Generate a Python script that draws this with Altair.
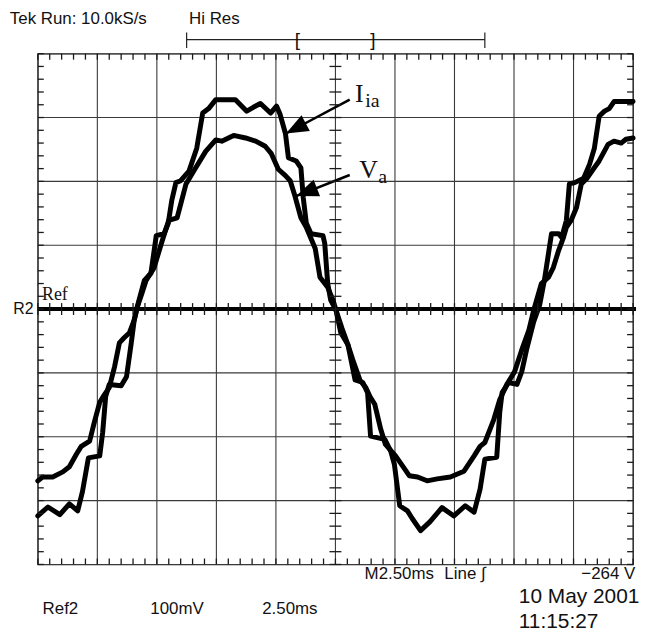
import math
import altair as alt
import pandas as pd

# ---- data (time axis in divisions 0..10, amplitude in divisions -4..4) ----
i_t = [0.00,0.17,0.37,0.53,0.67,0.75,0.85,1.04,1.09,1.14,1.20,1.40,1.49,1.57,1.62,1.70,1.79,1.90,1.99,2.12,
       2.19,2.25,2.32,2.40,2.54,2.67,2.77,2.87,2.99,3.32,3.51,3.62,3.74,3.91,4.01,4.07,4.16,4.21,4.34,4.42,
       4.46,4.51,4.59,4.79,4.82,4.87,4.92,5.01,5.09,5.21,5.33,5.46,5.54,5.59,5.83,5.93,5.99,6.08,6.21,6.29,
       6.43,6.59,6.79,6.99,7.18,7.33,7.43,7.51,7.71,7.76,7.80,7.91,8.05,8.13,8.21,8.33,8.43,8.51,8.63,8.75,
       8.80,8.88,8.93,9.02,9.17,9.27,9.35,9.43,9.52,9.60,9.68,10.0]
i_v = [-3.24,-3.10,-3.22,-3.05,-3.16,-2.86,-2.33,-2.30,-1.93,-1.37,-1.18,-1.20,-1.06,-0.53,-0.17,0.14,0.45,0.56,1.15,1.18,
       1.34,1.70,1.98,2.01,2.16,2.52,3.07,3.14,3.28,3.28,3.10,3.16,3.22,3.07,3.18,3.05,2.75,2.37,2.32,2.21,
       1.74,1.35,1.18,1.15,1.03,0.40,0.14,-0.02,-0.37,-0.56,-1.11,-1.15,-1.31,-1.99,-2.04,-2.23,-2.43,-3.08,-3.16,-3.28,
       -3.47,-3.33,-3.11,-3.24,-3.08,-3.18,-2.82,-2.35,-2.32,-1.62,-1.31,-1.15,-1.18,-0.98,-0.64,-0.20,0.06,0.45,1.18,1.18,
       1.12,1.39,1.96,1.98,2.05,2.27,2.52,3.02,3.10,3.14,3.25,3.25]

v_t = [0.00,0.08,0.25,0.42,0.53,0.65,0.73,0.87,0.95,1.04,1.12,1.20,1.29,1.37,1.45,1.54,1.62,1.67,1.75,1.82,
       1.95,2.09,2.20,2.34,2.49,2.65,2.82,2.99,3.09,3.29,3.49,3.66,3.82,3.92,4.04,4.16,4.24,4.32,4.42,4.51,
       4.66,4.74,4.87,4.96,5.01,5.11,5.21,5.29,5.41,5.51,5.58,5.66,5.76,5.84,6.01,6.13,6.24,6.38,6.54,6.71,
       6.93,7.16,7.33,7.43,7.51,7.66,7.76,7.88,8.01,8.13,8.25,8.33,8.46,8.58,8.66,8.75,8.83,8.88,8.96,9.05,
       9.13,9.22,9.33,9.43,9.58,9.68,9.80,9.88,10.0]
v_v = [-2.69,-2.63,-2.63,-2.55,-2.47,-2.27,-2.15,-2.07,-1.77,-1.46,-1.34,-1.23,-0.90,-0.53,-0.45,-0.37,-0.17,0.03,0.25,0.45,
       0.64,1.07,1.39,1.43,1.96,2.21,2.47,2.65,2.63,2.72,2.68,2.63,2.55,2.44,2.19,2.09,2.01,1.77,1.43,1.28,
       0.95,0.50,0.34,0.14,-0.02,-0.30,-0.56,-0.79,-1.11,-1.23,-1.37,-1.49,-1.88,-2.12,-2.30,-2.46,-2.61,-2.63,-2.69,-2.66,
       -2.63,-2.54,-2.30,-2.15,-2.09,-1.73,-1.42,-1.18,-0.98,-0.64,-0.33,-0.02,0.40,0.50,0.65,0.92,1.12,1.28,1.39,1.59,
       1.96,2.04,2.19,2.32,2.58,2.63,2.60,2.66,2.68]

grid_x = [0,1,2,3,4,5,6,7,8,9,10]
grid_y = [-4,-3,-2,-1,0,1,2,3,4]

assert len(i_t) == len(i_v) and len(v_t) == len(v_v)

W, H = 599, 514
PX_X, PX_Y = W / 10.0, H / 8.0

X = alt.Scale(domain=[0, 10], nice=False, zero=False)
Y = alt.Scale(domain=[-4, 4], nice=False, zero=False)

def xe(f="x"):
    return alt.X(f + ":Q", scale=X, axis=None)

def ye(f="y"):
    return alt.Y(f + ":Q", scale=Y, axis=None)

# grid
gx = alt.Chart(pd.DataFrame({"x": grid_x})).mark_rule(color="#3a3a3a", strokeWidth=1.1).encode(
    x=xe(), y=alt.value(0), y2=alt.value(H))
gy = alt.Chart(pd.DataFrame({"y": grid_y})).mark_rule(color="#3a3a3a", strokeWidth=1.1).encode(
    y=ye(), x=alt.value(0), x2=alt.value(W))

# minor ticks (every 1/5 division): vertical ticks along horizontal lines, horizontal ticks along vertical lines
sub_x = [k / 5 for k in range(51)]
sub_y = [k / 5 - 4 for k in range(41)]
tx = 6 / PX_X
ty = 6 / PX_Y
vt = []
for s in sub_x:
    vt.append({"x": s, "y": 4, "y2": 4 - ty})
    vt.append({"x": s, "y": -4, "y2": -4 + ty})
    vt.append({"x": s, "y": -ty, "y2": ty})
ht = []
for s in sub_y:
    ht.append({"y": s, "x": 0, "x2": tx})
    ht.append({"y": s, "x": 10, "x2": 10 - tx})
    ht.append({"y": s, "x": 5 - tx, "x2": 5 + tx})
tk_v = alt.Chart(pd.DataFrame(vt)).mark_rule(color="#1a1a1a", strokeWidth=1.3).encode(
    x=xe(), y=ye(), y2="y2:Q")
tk_h = alt.Chart(pd.DataFrame(ht)).mark_rule(color="#1a1a1a", strokeWidth=1.3).encode(
    y=ye(), x=xe(), x2="x2:Q")

# reference line
ref = alt.Chart(pd.DataFrame({"x": [0], "x2": [10.05], "y": [0]})).mark_rule(
    color="black", strokeWidth=4).encode(x=xe(), x2="x2:Q", y=ye())

# traces
df_i = pd.DataFrame({"x": i_t, "y": i_v, "o": range(len(i_t))})
df_v = pd.DataFrame({"x": v_t, "y": v_v, "o": range(len(v_t))})
li = alt.Chart(df_i).mark_line(color="black", strokeWidth=5, strokeJoin="round", strokeCap="round").encode(
    x=xe(), y=ye(), order="o:Q")
lv = alt.Chart(df_v).mark_line(color="black", strokeWidth=5, strokeJoin="round", strokeCap="round").encode(
    x=xe(), y=ye(), order="o:Q")

# arrows
arrows = pd.DataFrame({
    "x": [5.24, 5.24], "y": [3.28, 2.10],
    "x2": [4.17, 4.34], "y2": [2.75, 1.77],
})
arrows["ang"] = [
    (math.degrees(math.atan2((r.x2 - r.x) * PX_X, (r.y2 - r.y) * PX_Y)) + 360) % 360
    for r in arrows.itertuples()
]
shaft = alt.Chart(arrows).mark_rule(color="black", strokeWidth=2.5).encode(
    x=xe(), x2="x2:Q", y=ye(), y2="y2:Q")
head = alt.Chart(arrows).mark_point(
    shape="M0,0 L0.8,2 L-0.8,2 Z", filled=True, color="black", size=500, opacity=1
).encode(x=xe("x2"), y=ye("y2"), angle=alt.Angle("ang:Q", scale=None))

SANS = "Liberation Sans"
SERIF = "Liberation Serif"

def texts(rows, **kw):
    return alt.Chart(pd.DataFrame(rows)).mark_text(color="#111", **kw).encode(
        x=xe(), y=ye(), text="t:N")

t_top = texts([
    {"x": -0.47, "y": 4.47, "t": "Tek Run: 10.0kS/s"},
    {"x": 2.54, "y": 4.47, "t": "Hi Res"},
], font=SANS, fontSize=17, align="left", baseline="alphabetic")
t_bot = texts([
    {"x": 5.49, "y": -4.23, "t": "M2.50ms"},
    {"x": 6.83, "y": -4.23, "t": "Line \u222b"},
    {"x": 9.13, "y": -4.23, "t": "\u2212264 V"},
    {"x": 0.08, "y": -4.78, "t": "Ref2"},
    {"x": 1.89, "y": -4.78, "t": "100mV"},
    {"x": 3.77, "y": -4.78, "t": "2.50ms"},
], font=SANS, fontSize=17, align="left", baseline="alphabetic")
t_date = texts([
    {"x": 8.08, "y": -4.61, "t": "10 May 2001"},
    {"x": 8.08, "y": -4.99, "t": "11:15:27"},
], font=SANS, fontSize=21, align="left", baseline="alphabetic")
t_r2 = texts([{"x": -0.07, "y": 0.0, "t": "R2"}], font=SANS, fontSize=16, align="right", baseline="middle")
t_br = texts([
    {"x": 4.36, "y": 4.22, "t": "["},
    {"x": 5.63, "y": 4.22, "t": "]"},
], font=SANS, fontSize=19, align="center", baseline="middle")

bar = alt.Chart(pd.DataFrame([
    {"x": 2.50, "x2": 7.51, "y": 4.22, "y2": 4.22},
    {"x": 2.50, "x2": 2.50, "y": 4.33, "y2": 4.09},
    {"x": 7.51, "x2": 7.51, "y": 4.33, "y2": 4.09},
])).mark_rule(color="#222", strokeWidth=1.2).encode(x=xe(), x2="x2:Q", y=ye(), y2="y2:Q")

t_ref = texts([{"x": 0.07, "y": 0.14, "t": "Ref"}], font=SERIF, fontSize=18, align="left", baseline="alphabetic")
t_big = texts([
    {"x": 5.33, "y": 3.24, "t": "I"},
    {"x": 5.40, "y": 2.06, "t": "V"},
], font=SERIF, fontSize=26, align="left", baseline="alphabetic")
t_sub = texts([
    {"x": 5.50, "y": 3.16, "t": "ia"},
    {"x": 5.72, "y": 1.98, "t": "a"},
], font=SERIF, fontSize=20, align="left", baseline="alphabetic")

chart = alt.layer(
    gx, gy, ref, li, lv, shaft, head, bar, tk_v, tk_h,
    t_top, t_bot, t_date, t_r2, t_br, t_ref, t_big, t_sub
).properties(
    width=W, height=H,
    padding={"left": 30, "top": 44, "right": 10, "bottom": 66},
    autosize=alt.AutoSizeParams(type="none"),
    background="white",
).configure_view(stroke="#222", strokeWidth=1.2)

chart.save("out.html", embed_options={"renderer": "svg", "actions": False})
